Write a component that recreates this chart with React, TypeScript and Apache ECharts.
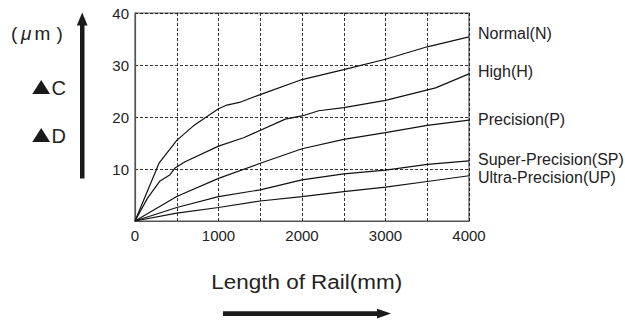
import React, { useEffect, useRef } from "react";
import * as echarts from "echarts";

const seriesNames = ["Normal(N)", "High(H)", "Precision(P)", "Super-Precision(SP)", "Ultra-Precision(UP)"];
const normal: [number, number][] = [[0, 0], [290, 11.2], [500, 15.5], [700, 18.3], [1000, 21.6], [1100, 22.3], [1250, 22.8], [1500, 24.3], [2000, 27.2], [2500, 29.1], [3000, 31.1], [3500, 33.5], [4000, 35.4]];
const high: [number, number][] = [[0, 0], [150, 4.4], [300, 7.7], [420, 8.9], [480, 10.2], [600, 11.4], [1000, 14.4], [1300, 16.0], [1800, 19.6], [2000, 20.2], [2200, 21.2], [2500, 21.8], [3000, 23.2], [3300, 24.4], [3600, 25.6], [4000, 28.3]];
const precision: [number, number][] = [[0, 0], [500, 4.7], [1000, 8.2], [1500, 11.1], [2000, 13.9], [2500, 15.7], [3000, 17.0], [3500, 18.4], [4000, 19.4]];
const superPrecision: [number, number][] = [[0, 0], [500, 2.6], [1000, 4.7], [1500, 6.0], [2000, 7.9], [2500, 9.05], [3000, 9.8], [3500, 10.9], [4000, 11.55]];
const ultraPrecision: [number, number][] = [[0, 0], [500, 1.5], [1000, 2.6], [1500, 3.85], [2000, 4.7], [2500, 5.65], [3000, 6.5], [3500, 7.6], [4000, 8.7]];
const allSeries = [normal, high, precision, superPrecision, ultraPrecision];
const labelY = [33.5, 71, 119, 159, 177.5];

const FONT = "'Liberation Sans', Arial, sans-serif";
const TXT = "#222";
const INK = "#1a1a1a";

export default function App() {
  const ref = useRef<HTMLDivElement>(null);
  useEffect(() => {
    if (!ref.current) return;
    const chart = echarts.init(ref.current, null, { renderer: "svg" });
    const graphics: any[] = [
      { type: "text", x: 11, y: 33, style: { text: "(", font: `19px ${FONT}`, fill: TXT, verticalAlign: "middle" } },
      { type: "text", x: 21, y: 33, style: { text: "μ", font: `italic 19px ${FONT}`, fill: TXT, verticalAlign: "middle" } },
      { type: "text", x: 34.5, y: 33, style: { text: "m", font: `19px ${FONT}`, fill: TXT, verticalAlign: "middle" } },
      { type: "text", x: 56.5, y: 33, style: { text: ")", font: `19px ${FONT}`, fill: TXT, verticalAlign: "middle" } },
      { type: "polygon", shape: { points: [[41.2, 80], [32.3, 94], [50, 94]] }, style: { fill: INK } },
      { type: "text", x: 51.5, y: 87.5, style: { text: "C", font: `20px ${FONT}`, fill: TXT, verticalAlign: "middle" } },
      { type: "polygon", shape: { points: [[41.2, 128], [32.3, 142], [50, 142]] }, style: { fill: INK } },
      { type: "text", x: 51.5, y: 135.5, style: { text: "D", font: `20px ${FONT}`, fill: TXT, verticalAlign: "middle" } },
      { type: "rect", shape: { x: 80, y: 24, width: 4.5, height: 154.5 }, style: { fill: INK } },
      { type: "polygon", shape: { points: [[82.2, 12.5], [76.8, 25.5], [87.6, 25.5]] }, style: { fill: INK } },
      { type: "text", x: 306.7, y: 282, scaleX: 1.07, style: { text: "Length of Rail(mm)", font: `21px ${FONT}`, fill: TXT, align: "center", verticalAlign: "middle" } },
      { type: "rect", shape: { x: 223, y: 311.2, width: 156, height: 4.8 }, style: { fill: INK } },
      { type: "polygon", shape: { points: [[391, 313.6], [377, 308.8], [377, 318.4]] }, style: { fill: INK } },
    ];
    seriesNames.forEach((n, i) => {
      graphics.push({ type: "text", x: 478, y: labelY[i], style: { text: n, font: `16px ${FONT}`, fill: TXT, verticalAlign: "middle" } });
    });
    chart.setOption({
      animation: false,
      grid: { left: 135, right: 156, top: 13, bottom: 100, show: true, borderColor: "#555", borderWidth: 1.2 },
      xAxis: {
        type: "value", min: 0, max: 4000, interval: 500,
        axisLine: { show: true, lineStyle: { color: "#555", width: 1.2 } },
        axisTick: { show: false },
        axisLabel: { color: TXT, fontSize: 15, fontFamily: FONT, margin: 7, formatter: (v: number) => (v % 1000 === 0 ? String(v) : "") },
        splitLine: { show: true, lineStyle: { color: "#000", type: [3, 2], width: 0.8 } },
      },
      yAxis: {
        type: "value", min: 0, max: 40, interval: 10,
        axisLine: { show: true, lineStyle: { color: "#555", width: 1.2 } },
        axisTick: { show: false },
        axisLabel: { color: TXT, fontSize: 15, fontFamily: FONT, margin: 6, formatter: (v: number) => (v === 0 ? "" : String(v)) },
        splitLine: { show: true, lineStyle: { color: "#000", type: [3, 2], width: 0.8 } },
      },
      series: allSeries.map((d, i) => ({
        name: seriesNames[i], type: "line", data: d, showSymbol: false, symbol: "none",
        lineStyle: { color: "#111", width: 1.2 }, silent: true,
      })),
      graphic: graphics,
    });
    return () => chart.dispose();
  }, []);
  return <div ref={ref} style={{ width: 625, height: 321, position: "absolute", left: 0, top: 0 }} />;
}
